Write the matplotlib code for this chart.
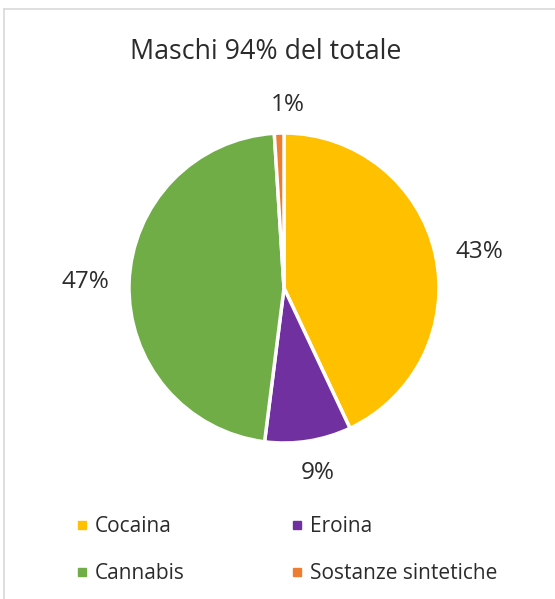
import matplotlib
matplotlib.use("Agg")
import matplotlib.pyplot as plt
from matplotlib.lines import Line2D
import numpy as np

categories = ["Cocaina", "Eroina", "Cannabis", "Sostanze sintetiche"]
values = [43, 9, 47, 1]
pct_labels = ["43%", "9%", "47%", "1%"]
colors = ["#FFC000", "#7030A0", "#70AD47", "#ED7D31"]
title = "Maschi 94% del totale"

plt.rcParams['font.family'] = ['Open Sans', 'DejaVu Sans']

W, H = 555, 599
fig = plt.figure(figsize=(W / 100, H / 100), dpi=100)

# frame border
fig.add_artist(Line2D([4 / W, 1], [1 - 9 / H, 1 - 9 / H], color="#d9d9d9", lw=1.2))
fig.add_artist(Line2D([4 / W, 4 / W], [0, 1 - 9 / H], color="#d9d9d9", lw=1.2))

txt_color = "#2b2b2b"

cx, cy, r = 284, 288, 155
ax = fig.add_axes([(cx - r) / W, (H - cy - r) / H, 2 * r / W, 2 * r / H])
wedges, _ = ax.pie(values, colors=colors, startangle=90, counterclock=False,
                   wedgeprops=dict(edgecolor="white", linewidth=2.5))
ax.set_xlim(-1, 1)
ax.set_ylim(-1, 1)
ax.set_aspect("equal")
ax.axis("off")

label_r = [1.28, 1.2, 1.28, 1.19]
label_dx = [0.01, 0.03, 0.0, 0.06]
label_dy = [-0.045, -0.01, 0.0, -0.01]
for w, t, lr, dx, dy in zip(wedges, pct_labels, label_r, label_dx, label_dy):
    ang = np.deg2rad((w.theta1 + w.theta2) / 2)
    ax.text(lr * np.cos(ang) + dx, lr * np.sin(ang) + dy, t, ha="center", va="center",
            fontsize=17.5, color=txt_color, clip_on=False)

fig.text(266 / W, 1 - 52 / H, title, ha="center", va="center", fontsize=19.3, color=txt_color)

order = [0, 2, 1, 3]
handles = [Line2D([], [], marker="s", linestyle="", color=colors[i], markersize=6) for i in order]
labels = [categories[i] for i in order]
fig.legend(handles, labels, ncol=2, loc="center left", bbox_to_anchor=(77 / W, 1 - 550 / H),
           frameon=False, fontsize=15, handlelength=0.5, handletextpad=0.375,
           borderpad=0, borderaxespad=0,
           columnspacing=5.1, labelspacing=1.25, labelcolor=txt_color)

fig.savefig("out.png", dpi=100)
